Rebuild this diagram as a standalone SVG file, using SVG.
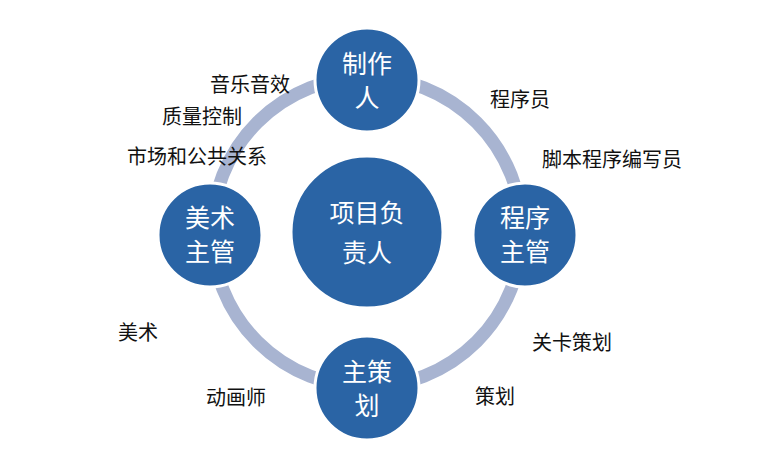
<svg xmlns="http://www.w3.org/2000/svg" width="768" height="466" viewBox="0 0 768 466">
<style>
.n{fill:#2a64a5;stroke:#fff;stroke-width:3}
.w{fill:#fff;font-family:"Noto Sans CJK SC",sans-serif;font-size:25px;text-anchor:middle}
.b{fill:#111;font-family:"Noto Sans CJK SC",sans-serif;font-size:20px;text-anchor:middle}
</style>
<rect width="768" height="466" fill="#fff"/>
<g id="connectors"><circle cx="367" cy="232" r="155" fill="none" stroke="#a8b4d1" stroke-width="13"/></g>
<g id="center"><circle class="n" cx="367" cy="232" r="76"/><text class="w" x="367" y="222">项目负</text><text class="w" x="367" y="262">责人</text></g>
<g id="top"><circle class="n" cx="367" cy="80" r="52"/><text class="w" x="367" y="73">制作</text><text class="w" x="367" y="107">人</text></g>
<g id="right"><circle class="n" cx="525" cy="235" r="52"/><text class="w" x="525" y="227">程序</text><text class="w" x="525" y="261">主管</text></g>
<g id="left"><circle class="n" cx="210" cy="235" r="52"/><text class="w" x="210" y="227">美术</text><text class="w" x="210" y="261">主管</text></g>
<g id="bottom"><circle class="n" cx="367" cy="388" r="52"/><text class="w" x="367" y="381">主策</text><text class="w" x="367" y="415">划</text></g>
<g id="labels">
<text class="b" x="250" y="92">音乐音效</text>
<text class="b" x="202" y="124">质量控制</text>
<text class="b" x="197" y="164">市场和公共关系</text>
<text class="b" x="520" y="107">程序员</text>
<text class="b" x="612" y="167">脚本程序编写员</text>
<text class="b" x="138" y="340">美术</text>
<text class="b" x="572" y="350">关卡策划</text>
<text class="b" x="236" y="405">动画师</text>
<text class="b" x="495" y="404">策划</text>
</g>
</svg>
